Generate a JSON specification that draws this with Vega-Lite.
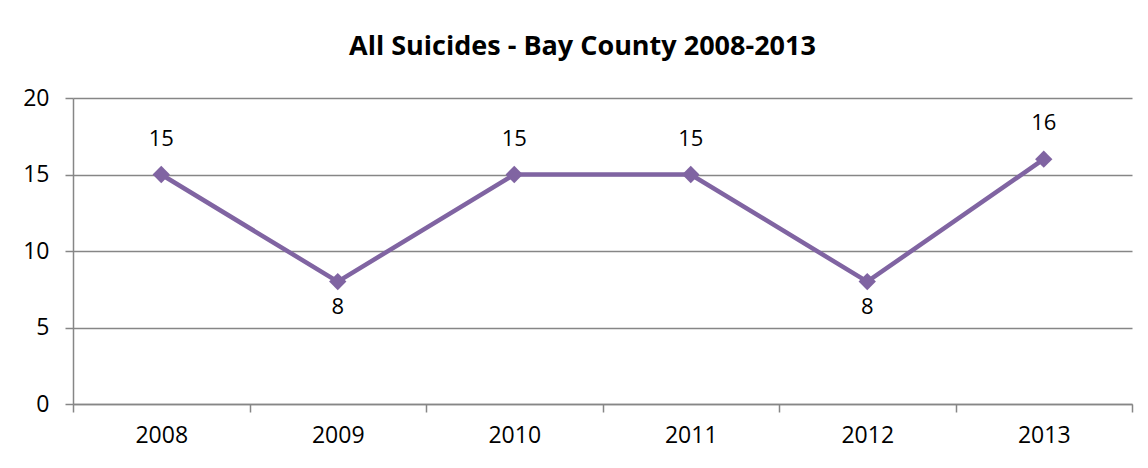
{
  "$schema": "https://vega.github.io/schema/vega-lite/v6.json",
  "width": 1059,
  "height": 306,
  "autosize": "none",
  "padding": {"left": 73, "top": 98, "right": 16, "bottom": 64},
  "background": "white",
  "title": {
    "text": "All Suicides - Bay County 2008-2013",
    "font": "Open Sans",
    "fontSize": 27,
    "fontWeight": "bold",
    "color": "black",
    "anchor": "middle",
    "dx": -20,
    "offset": 26
  },
  "config": {
    "view": {"stroke": null},
    "font": "Open Sans"
  },
  "data": {
    "values": [
      {"year": "2008", "count": 15},
      {"year": "2009", "count": 8},
      {"year": "2010", "count": 15},
      {"year": "2011", "count": 15},
      {"year": "2012", "count": 8},
      {"year": "2013", "count": 16}
    ]
  },
  "encoding": {
    "x": {
      "field": "year",
      "type": "ordinal",
      "scale": {"paddingInner": 0, "paddingOuter": 0},
      "axis": {
        "title": null,
        "labelAngle": 0,
        "labelFont": "Open Sans",
        "labelFontSize": 23,
        "labelColor": "black",
        "labelPadding": 12,
        "tickBand": "extent",
        "tickSize": 8,
        "tickColor": "#868686",
        "tickWidth": 1.5,
        "domainColor": "#868686",
        "domainWidth": 1.5,
        "grid": false
      }
    },
    "y": {
      "field": "count",
      "type": "quantitative",
      "scale": {"domain": [0, 20]},
      "axis": {
        "title": null,
        "values": [0, 5, 10, 15, 20],
        "labelFont": "Open Sans",
        "labelFontSize": 23,
        "labelColor": "black",
        "labelPadding": 16,
        "tickSize": 8,
        "tickColor": "#868686",
        "tickWidth": 1.5,
        "domainColor": "#868686",
        "domainWidth": 1.5,
        "grid": true,
        "gridColor": "#868686",
        "gridWidth": 1.5
      }
    }
  },
  "layer": [
    {
      "mark": {"type": "line", "color": "#8064A2", "strokeWidth": 4.5}
    },
    {
      "mark": {"type": "point", "shape": "diamond", "filled": true, "size": 300, "color": "#8064A2", "opacity": 1}
    },
    {
      "transform": [{"filter": "datum.count >= 10"}],
      "mark": {"type": "text", "baseline": "bottom", "dy": -24, "fontSize": 22, "font": "Open Sans", "color": "black"},
      "encoding": {"text": {"field": "count", "type": "quantitative"}}
    },
    {
      "transform": [{"filter": "datum.count < 10"}],
      "mark": {"type": "text", "baseline": "top", "dy": 15, "fontSize": 22, "font": "Open Sans", "color": "black"},
      "encoding": {"text": {"field": "count", "type": "quantitative"}}
    }
  ]
}
